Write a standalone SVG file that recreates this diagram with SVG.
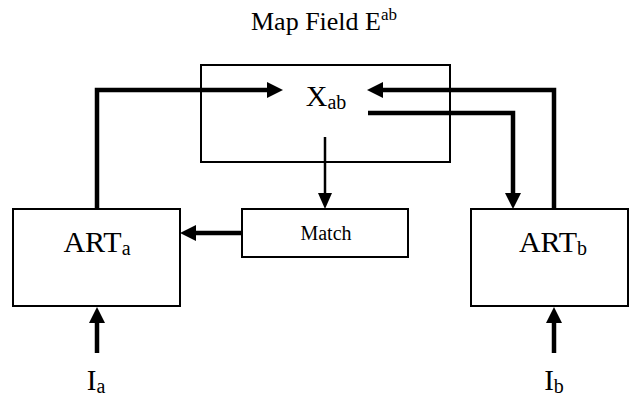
<svg xmlns="http://www.w3.org/2000/svg" width="629" height="401" viewBox="0 0 629 401">
<style>
  .box { fill: #fff; stroke: #000; stroke-width: 2; }
  .t { font-family: "Liberation Serif", "Times New Roman", serif; fill: #000; text-anchor: middle; }
  .thick { fill: none; stroke: #000; stroke-width: 4.5; }
  .thin { fill: none; stroke: #000; stroke-width: 2.5; }
</style>
<defs>
  <marker id="ah" markerUnits="userSpaceOnUse" markerWidth="17" markerHeight="17" refX="0" refY="8" orient="auto">
    <path d="M0,0 L16,8 L0,16 z" fill="#000"/>
  </marker>
  <marker id="ahs" markerUnits="userSpaceOnUse" markerWidth="17" markerHeight="15" refX="0" refY="7" orient="auto">
    <path d="M0,0 L16,7 L0,14 z" fill="#000"/>
  </marker>
</defs>
<rect width="629" height="401" fill="#fff"/>
<text class="t" x="324" y="30" font-size="26">Map Field E<tspan font-size="17" dy="-10">ab</tspan></text>
<g id="mapfield">
  <rect class="box" x="201" y="65" width="249" height="97"/>
  <text class="t" x="326" y="106" font-size="30">X<tspan font-size="20" dy="3">ab</tspan></text>
</g>
<g id="match">
  <rect class="box" x="242" y="209" width="166" height="48"/>
  <text class="t" x="326" y="240" font-size="20">Match</text>
</g>
<g id="arta">
  <rect class="box" x="13" y="209" width="167" height="97"/>
  <text class="t" x="97" y="252" font-size="30">ART<tspan font-size="20" dy="3">a</tspan></text>
</g>
<g id="artb">
  <rect class="box" x="471" y="209" width="157" height="97"/>
  <text class="t" x="553" y="252" font-size="30">ART<tspan font-size="20" dy="3">b</tspan></text>
</g>
<g id="ia">
  <text class="t" x="96" y="390" font-size="29">I<tspan font-size="20" dy="3">a</tspan></text>
</g>
<g id="ib">
  <text class="t" x="554" y="390" font-size="29">I<tspan font-size="20" dy="3">b</tspan></text>
</g>
<g id="connectors">
  <path class="thick" d="M97,209 V90 H267" marker-end="url(#ah)"/>
  <path class="thick" d="M554,209 V90 H383" marker-end="url(#ah)"/>
  <path class="thick" d="M368,113 H513 V193" marker-end="url(#ah)"/>
  <path class="thin" d="M325,137 V193" marker-end="url(#ahs)"/>
  <path class="thick" d="M242,233 H196" marker-end="url(#ah)"/>
  <path class="thick" d="M97,353 V323" marker-end="url(#ah)"/>
  <path class="thick" d="M554,353 V323" marker-end="url(#ah)"/>
</g>
</svg>
